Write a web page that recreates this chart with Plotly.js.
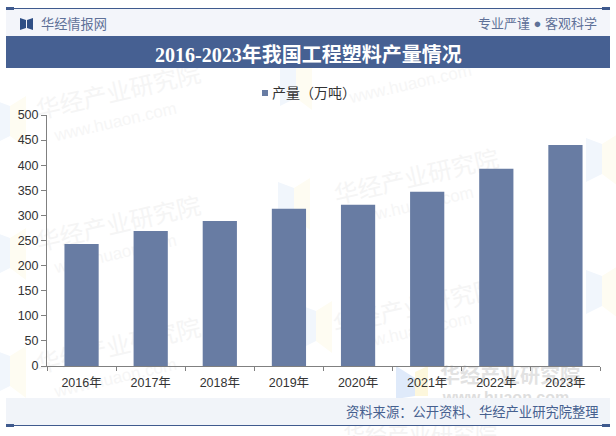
<!DOCTYPE html>
<html><head><meta charset="utf-8">
<script src="https://cdn.plot.ly/plotly-3.0.1.min.js"></script>
<style>html,body{margin:0;padding:0;background:#fff}#c{width:616px;height:436px}</style></head>
<body><div id="c"></div>
<script>
var categories = ["2016年","2017年","2018年","2019年","2020年","2021年","2022年","2023年"];
var production = [243, 269, 289, 313, 321, 347, 393, 440];
var seriesName = "产量（万吨）";
var titleText = "2016-2023年我国工程塑料产量情况";
var siteName = "华经情报网";
var sloganText = "专业严谨 ● 客观科学";
var sourceText = "资料来源：公开资料、华经产业研究院整理";
var watermarkCn = "华经产业研究院";
var watermarkEn = "www.huaon.com";

var W = 616, H = 436, L = 47, R = 600, T = 115, B = 366;
function px(x){ return (x - L) / (R - L); }
function py(y){ return (B - y) / (B - T); }
var CJK = '"Liberation Sans","Noto Sans CJK SC",sans-serif';
var SERIF = '"Liberation Serif","Noto Sans CJK SC",serif';

function rect(x0, y0, x1, y1, color, layer){
  return {type:'rect', xref:'paper', yref:'paper', x0:px(x0), x1:px(x1), y0:py(y0), y1:py(y1),
          fillcolor:color, line:{width:0}, layer:layer||'below'};
}
function poly(points, color, layer){
  var d = points.map(function(p,i){ return (i?'L':'M') + px(p[0]) + ',' + py(p[1]); }).join(' ') + ' Z';
  return {type:'path', xref:'paper', yref:'paper', path:d, fillcolor:color, line:{width:0}, layer:layer||'below'};
}
function mark(cx, cy, angle, size, color, text){
  return {type:'rect', xref:'paper', yref:'paper', x0:px(cx-110), x1:px(cx+110), y0:py(cy+15), y1:py(cy-15),
          fillcolor:'rgba(0,0,0,0)', line:{width:0}, layer:'below',
          label:{text:text, textangle:angle, textposition:'middle center', font:{family:CJK, size:size, color:color}}};
}
function patch(x, y){
  return [poly([[x,y],[x+16,y+6],[x+16,y+36],[x,y+44]], '#f1f6fc'),
          poly([[x+16,y+6],[x+32,y-4],[x+32,y+48],[x+16,y+36]], '#fefcf2')];
}

var shapes = [];
[[-6,100],[278,182],[-6,232],[-6,350],[586,138],[586,270],[280,62],[300,305]].forEach(function(p){ shapes = shapes.concat(patch(p[0],p[1])); });
shapes.push(poly([[396,366],[415,378],[415,396],[396,399]],'#dfeafa'));
shapes.push(poly([[415,372],[428,366],[428,396],[415,396]],'#fdf7dc'));
shapes.push(mark(118,90,-13,24,'#f5f5f5',watermarkCn));
shapes.push(mark(115,120,-13,17,'#f6f6f6',watermarkEn));
shapes.push(mark(118,222,-13,24,'#f5f5f5',watermarkCn));
shapes.push(mark(115,252,-13,17,'#f6f6f6',watermarkEn));
shapes.push(mark(118,344,-13,24,'#f5f5f5',watermarkCn));
shapes.push(mark(115,376,-13,17,'#f6f6f6',watermarkEn));
shapes.push(mark(410,82,-13,17,'#f6f6f6',watermarkEn));
shapes.push(mark(416,175,-13,24,'#f5f5f5',watermarkCn));
shapes.push(mark(412,204,-13,17,'#f6f6f6',watermarkEn));
shapes.push(mark(415,305,-13,24,'#f5f5f5',watermarkCn));
shapes.push(mark(410,330,-13,17,'#f6f6f6',watermarkEn));
shapes.push(mark(510,374,0,20,'#e2e2e2','<b>'+watermarkCn+'</b>'));
shapes.push(mark(506,395,0,16,'#dedede','<b>'+watermarkEn+'</b>'));
shapes.push(mark(420,432,0,22,'#f3f3f3',watermarkCn));

shapes.push(rect(6,9,610,36,'#f3f5fa','below'));
shapes.push(rect(6,36,610,68,'#466092','below'));
shapes.push(rect(6,398,610,425,'#f1f4f9','below'));
shapes.push(rect(6,8,610,9,'#3f5a8e','below'));
shapes.push(rect(6,7,14,10,'#3f5a8e','below'));
shapes.push(rect(602,7,610,10,'#3f5a8e','below'));
shapes.push(rect(6,425,610,426,'#3f5a8e','below'));
shapes.push(rect(6,424,14,427,'#3f5a8e','below'));
shapes.push(rect(602,424,610,427,'#3f5a8e','below'));
shapes.push(poly([[20,18],[26,20],[26,28],[20,30]],'#2f4f85','below'));
shapes.push(poly([[27,20],[33,18],[33,30],[27,28]],'#2f4f85','below'));
shapes.push(rect(262,90,268,96,'#687ca3','below'));

function ann(x, y, text, anchor, size, color, family){
  return {xref:'paper', yref:'paper', x:px(x), y:py(y), text:text, showarrow:false, borderpad:0,
          xanchor:anchor, yanchor:'middle', font:{size:size, color:color, family:family}};
}
var annotations = [
  ann(308,55,'<b>'+titleText+'</b>','center',20,'#ffffff',SERIF),
  ann(40,24,siteName,'left',13.2,'#5f7198',CJK),
  ann(598,23,sloganText,'right',13,'#5f7198',CJK),
  ann(600,412,sourceText,'right',13.3,'#46608f',CJK),
  ann(271,93,seriesName,'left',14,'#333333',CJK)
];

Plotly.newPlot('c', [{
  type:'bar', name:seriesName, x:categories, y:production,
  marker:{color:'#687ca3'}, width:0.495
}], {
  width:W, height:H,
  margin:{l:L, r:W-R, t:T, b:H-B, pad:0},
  paper_bgcolor:'#ffffff', plot_bgcolor:'rgba(0,0,0,0)',
  font:{family:CJK, color:'#333333', size:12},
  showlegend:false,
  xaxis:{type:'category', tickson:'boundaries', ticks:'outside', ticklen:4, tickcolor:'#808080',
         showline:true, linecolor:'#808080', linewidth:1, showgrid:false, ticklabelstandoff:5,
         tickfont:{size:12.5, color:'#333333'}},
  yaxis:{range:[0,500], dtick:50, ticks:'outside', ticklen:5, tickcolor:'#808080',
         showline:true, linecolor:'#808080', linewidth:1, showgrid:false, zeroline:false,
         tickfont:{size:12.5, color:'#333333'}},
  shapes:shapes, annotations:annotations
}, {displayModeBar:false, staticPlot:true});
</script></body></html>
